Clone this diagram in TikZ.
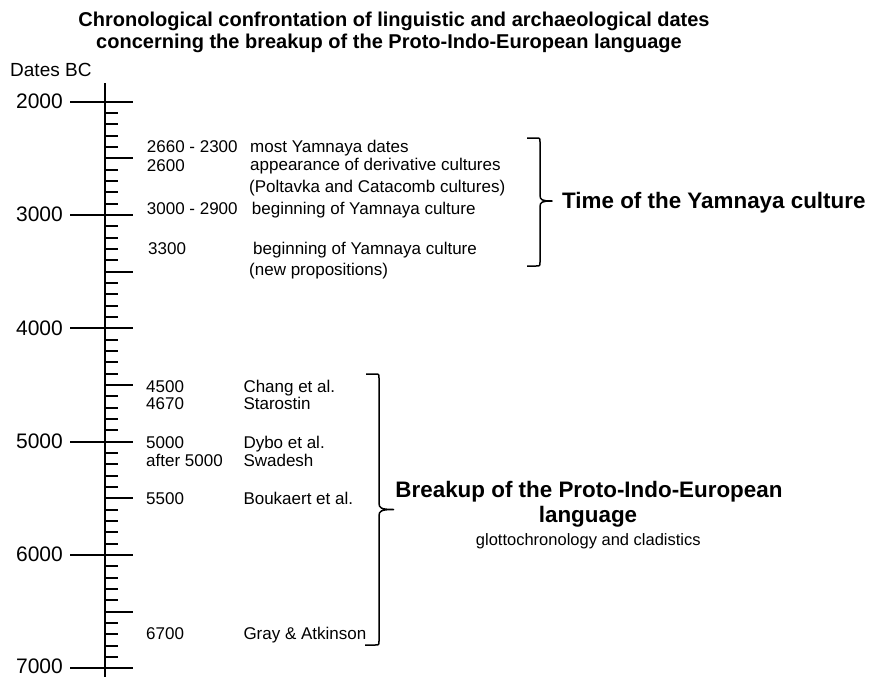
\documentclass[tikz,border=0pt]{standalone}
\usepackage{fontspec}
\setmainfont{Liberation Sans}
\begin{document}
\begin{tikzpicture}[x=1pt,y=-1pt,
  sm/.style={font=\fontsize{17}{20}\selectfont, anchor=base west, inner sep=0pt},
  axlab/.style={font=\fontsize{21}{24}\selectfont, anchor=base east, inner sep=0pt},
  ttl/.style={font=\bfseries\fontsize{20}{23}\selectfont, anchor=base, inner sep=0pt},
  big/.style={font=\bfseries\fontsize{22.4}{25}\selectfont, inner sep=0pt},
  axisline/.style={line width=2.3pt},
  tickline/.style={line width=2pt},
  brace/.style={line width=1.5pt, line join=round}]
\useasboundingbox (0,0) rectangle (869,677);
% title
\node[ttl] (t1) at (394,26.7) {Chronological confrontation of linguistic and archaeological dates};
\node[ttl] (t2) at (389,48.7) {concerning the breakup of the Proto-Indo-European language};
\node[font=\fontsize{19}{22}\selectfont, anchor=base west, inner sep=0pt] (dbc) at (10,76.8) {Dates BC};
% axis
\draw[axisline] (105,83) -- (105,677);
\foreach \d in {2000,3000,...,7000} {
  \pgfmathsetmacro\yy{101.7+(\d-2000)*0.1133}
  \draw[tickline] (70,\yy) -- (133,\yy);
}
\foreach \d in {2000,3000,...,6000} {
  \pgfmathsetmacro\yy{101.7+(\d-2000)*0.1133}
  \node[axlab] at (63,\yy+7) {\d};
}
\node[axlab] (l7000) at (63,673) {7000};
\foreach \d in {2500,3500,...,6500} {
  \pgfmathsetmacro\yy{101.7+(\d-2000)*0.1133}
  \draw[tickline] (105,\yy) -- (133,\yy);
}
\foreach \d in {2100,2200,2300,2400,2600,2700,2800,2900} {
  \foreach \k in {0,1000,2000,3000,4000} {
    \pgfmathsetmacro\yy{101.7+(\d+\k-2000)*0.1133}
    \draw[tickline] (105,\yy) -- (118,\yy);
  }
}
% upper entries
\node[sm] (a1) at (146.7,152.8) {2660 - 2300};
\node[sm] (b1) at (250,152.8) {most Yamnaya dates};
\node[sm] (a2) at (146.7,171.8) {2600};
\node[sm] (b2) at (250,170.6) {appearance of derivative cultures};
\node[sm] (b3) at (249,192.8) {(Poltavka and Catacomb cultures)};
\node[sm] (a4) at (146.7,214.4) {3000 - 2900};
\node[sm] (b4) at (251.7,214.4) {beginning of Yamnaya culture};
\node[sm] (a5) at (148,254.4) {3300};
\node[sm] (b5) at (253,254.4) {beginning of Yamnaya culture};
\node[sm] (b6) at (249,275.1) {(new propositions)};
% lower entries
\node[sm] (c1) at (146,392.1) {4500};
\node[sm] (d1) at (243.3,392.1) {Chang et al.};
\node[sm] (c2) at (146,409.4) {4670};
\node[sm] (d2) at (243.3,409.4) {Starostin};
\node[sm] (c3) at (146,448.8) {5000};
\node[sm] (d3) at (243.3,448.8) {Dybo et al.};
\node[sm] (c4) at (146,466.1) {after 5000};
\node[sm] (d4) at (243.3,466.1) {Swadesh};
\node[sm] (c5) at (146,504.4) {5500};
\node[sm] (d5) at (243.3,504.4) {Boukaert et al.};
\node[sm] (c6) at (146,639.4) {6700};
\node[sm] (d6) at (243.3,639.4) {Gray \& Atkinson};
% upper brace
\draw[brace] (527,138) -- (536,138) .. controls (540,138) .. (540,142) -- (540,195)
  .. controls (540,200) and (542,201) .. (552,201)
  .. controls (542,201) and (540,202) .. (540,207) -- (540,262)
  .. controls (540,266) .. (536,266) -- (527,266);
\node[big, anchor=base west] (yam) at (562,208) {Time of the Yamnaya culture};
% lower brace
\draw[brace] (366,374) -- (375,374) .. controls (379,374) .. (379,378) -- (379,503)
  .. controls (379,508) and (381,509.5) .. (393.5,509.5)
  .. controls (381,509.5) and (379,511) .. (379,516) -- (379,641)
  .. controls (379,645) .. (375,645) -- (365,645);
\node[big, anchor=base] (pie1) at (589,497) {Breakup of the Proto-Indo-European};
\node[big, anchor=base] (pie2) at (588,522) {language};
\node[font=\fontsize{16.5}{19}\selectfont, anchor=base, inner sep=0pt] (glot) at (588.3,545) {glottochronology and cladistics};
\end{tikzpicture}
\end{document}
